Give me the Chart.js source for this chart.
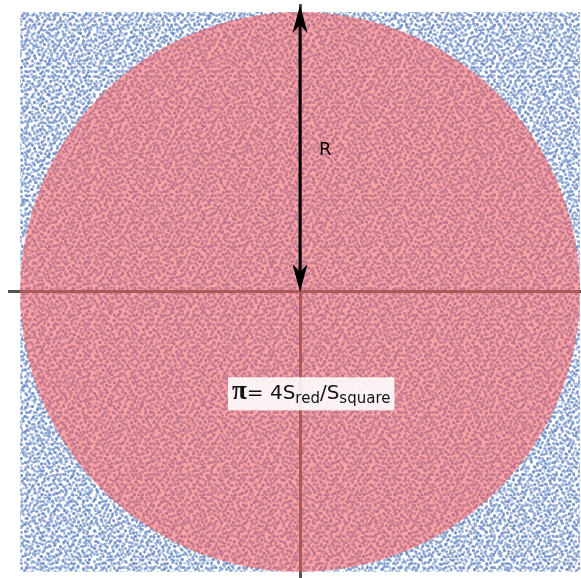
<!DOCTYPE html>
<html>
<head>
<meta charset="utf-8">
<script src="https://cdn.jsdelivr.net/npm/chart.js@4/dist/chart.umd.min.js"></script>
<style>
  html, body { margin: 0; padding: 0; background: #fff; }
</style>
</head>
<body>
<canvas id="chart" width="581" height="578"></canvas>
<script>
// sampling square and the circle inscribed in it
const squareRange = [-1, 1];
const circleCenter = [{ x: 0, y: 0 }];
const circleRadius = 1;

// radius arrow: from the centre up to the top of the vertical axis
const arrowFrom = { x: 0, y: 0 };
const arrowTo = { x: 0, y: 1.025 };

// axis limits (the axis lines run a little past the square)
const xLimits = [-1.04, 1.004];
const yLimits = [-1.022, 1.025];

// text
const radiusLabel = { text: 'R', x: 0.068, y: 0.488 };
const formulaParts = [
  { text: 'π', kind: 'pi' },
  { text: '= 4S', kind: 'main' },
  { text: 'red', kind: 'sub' },
  { text: '/S', kind: 'main' },
  { text: 'square', kind: 'sub' }
];
const formulaAt = { x: 0.04, y: -0.364 };

// speckle texture for the scattered sample points (offsets inside a tile)
const dotTileA = [[1,3],[7,1],[12,5],[18,2],[25,4],[29,9],[3,9],[9,11],[15,8],[21,10],[27,14],[5,15],[11,17],[17,14],[23,18],[1,21],[8,23],[14,20],[20,24],[26,22],[4,27],[10,29],[16,26],[22,29],[28,27],[13,13],[6,6],[24,13],[19,19],[2,14],[29,19],[9,5],[16,1],[21,5],[27,1],[3,24],[12,24],[25,28],[18,29],[7,19],[14,30],[30,25],[22,15],[11,9],[26,9]];
const dotTileB = [[2,2],[8,5],[15,1],[20,7],[4,12],[11,10],[17,14],[1,18],[7,20],[14,17],[21,21],[10,2],[19,11],[5,7],[13,21],[22,15],[3,16],[16,8],[9,15],[18,4]];
const dotTileC = [[3,1],[10,4],[15,9],[6,12],[1,7],[12,15],[8,8],[14,2],[4,16],[0,12]];

function makeTile(size, dots, color, rad) {
  const c = document.createElement('canvas');
  c.width = size; c.height = size;
  const g = c.getContext('2d');
  g.fillStyle = color;
  dots.forEach(([dx, dy]) => {
    g.beginPath();
    g.arc(dx + 0.5, dy + 0.5, rad, 0, Math.PI * 2);
    g.fill();
  });
  return c;
}

const speckles = {
  id: 'speckles',
  beforeDraw(chart) {
    const { ctx, scales: { x, y } } = chart;
    const l = x.getPixelForValue(squareRange[0]);
    const r = x.getPixelForValue(squareRange[1]);
    const t = y.getPixelForValue(squareRange[1]);
    const b = y.getPixelForValue(squareRange[0]);
    ctx.save();
    ctx.fillStyle = '#fff';
    ctx.fillRect(0, 0, chart.width, chart.height);
    ctx.beginPath();
    ctx.rect(l, t, r - l, b - t);
    ctx.clip();
    [
      [31, dotTileA, 'rgba(76,112,182,0.62)', 1.5],
      [23, dotTileB, 'rgba(88,124,190,0.56)', 1.4],
      [17, dotTileC, 'rgba(98,134,196,0.5)', 1.3]
    ].forEach(([s, d, col, rad]) => {
      ctx.fillStyle = ctx.createPattern(makeTile(s, d, col, rad), 'repeat');
      ctx.fillRect(l, t, r - l, b - t);
    });
    ctx.restore();
  }
};

function arrowHead(ctx, tx, ty, dir) {
  ctx.beginPath();
  ctx.moveTo(tx, ty);
  ctx.lineTo(tx + 7.5, ty + dir * 28);
  ctx.lineTo(tx, ty + dir * 20);
  ctx.lineTo(tx - 7.5, ty + dir * 28);
  ctx.closePath();
  ctx.fill();
}

const annotations = {
  id: 'annotations',
  afterDatasetsDraw(chart) {
    const { ctx, scales: { x, y } } = chart;
    const x0 = x.getPixelForValue(arrowFrom.x), y0 = y.getPixelForValue(arrowFrom.y);
    const x1 = x.getPixelForValue(arrowTo.x), y1 = y.getPixelForValue(arrowTo.y);
    ctx.save();
    ctx.strokeStyle = '#000';
    ctx.fillStyle = '#000';
    ctx.lineWidth = 3;
    ctx.beginPath();
    ctx.moveTo(x0, y0 - 18);
    ctx.lineTo(x1, y1 + 18);
    ctx.stroke();
    arrowHead(ctx, x1, y1, 1);
    arrowHead(ctx, x0, y0, -1);

    // R
    ctx.font = '18px "DejaVu Sans"';
    ctx.textBaseline = 'alphabetic';
    ctx.fillText(radiusLabel.text, x.getPixelForValue(radiusLabel.x), y.getPixelForValue(radiusLabel.y));

    // formula box
    const fonts = {
      pi: 'bold 27px "Liberation Serif"',
      main: '20px "DejaVu Sans"',
      sub: '15px "DejaVu Sans"'
    };
    let total = 0;
    const widths = formulaParts.map(p => {
      ctx.font = fonts[p.kind];
      const w = ctx.measureText(p.text).width;
      total += w;
      return w;
    });
    const cx = x.getPixelForValue(formulaAt.x), cy = y.getPixelForValue(formulaAt.y);
    const bw = total + 8, bh = 33;
    ctx.fillStyle = 'rgba(255,255,255,0.88)';
    ctx.fillRect(cx - bw / 2, cy - bh / 2, bw, bh);
    ctx.fillStyle = '#111';
    let px = cx - total / 2;
    formulaParts.forEach((p, i) => {
      ctx.font = fonts[p.kind];
      const base = cy + (p.kind === 'sub' ? 9 : 5);
      ctx.fillText(p.text, px, base);
      px += widths[i];
    });
    ctx.restore();
  }
};

const axisStyle = {
  type: 'linear',
  grid: { display: false, drawTicks: false },
  ticks: { display: false },
  border: { color: '#555', width: 3 }
};

new Chart(document.getElementById('chart'), {
  type: 'scatter',
  data: {
    datasets: [{
      label: 'circle',
      data: circleCenter,
      pointRadius: ctx => {
        const s = ctx.chart.scales.x;
        return s.getPixelForValue(circleRadius) - s.getPixelForValue(0);
      },
      pointHoverRadius: 0,
      backgroundColor: 'rgba(244,90,92,0.56)',
      borderWidth: 0,
      clip: false
    }]
  },
  options: {
    responsive: false,
    animation: false,
    events: [],
    layout: { padding: { left: 9, top: 5, right: 0, bottom: 0 } },
    plugins: { legend: { display: false }, tooltip: { enabled: false } },
    scales: {
      x: { ...axisStyle, min: xLimits[0], max: xLimits[1], position: { y: 0 } },
      y: { ...axisStyle, min: yLimits[0], max: yLimits[1], position: { x: 0 } }
    }
  },
  plugins: [speckles, annotations]
});
</script>
</body>
</html>
